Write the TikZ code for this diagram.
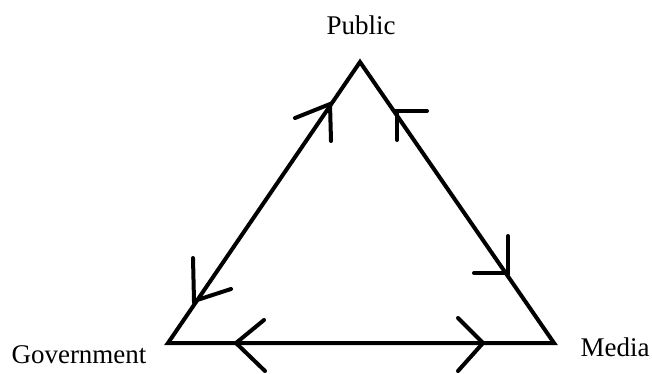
\documentclass[tikz,border=0pt]{standalone}
\usepackage{fontspec}
\setmainfont{Liberation Serif}
\begin{document}
\begin{tikzpicture}[x=1pt,y=-1pt,
  edge/.style={line width=4pt,line cap=round,line join=miter},
  barb/.style={line width=4pt,line cap=round},
  lbl/.style={font=\fontsize{27}{31}\selectfont,anchor=base,inner sep=0pt}]
\useasboundingbox (0,0) rectangle (652,373);
\coordinate (P) at (360,62);
\coordinate (G) at (168,343);
\coordinate (M) at (554,343);
\node[lbl] (pub) at (361,34) {Public};
\node[lbl] (gov) at (79,363) {Government};
\node[lbl] (med) at (615,356) {Media};
\draw[edge] (G) -- (P) -- (M) -- cycle;
% arrow tips
\coordinate (t1) at (330,104);
\coordinate (t2) at (194,301);
\coordinate (t3) at (397,111);
\coordinate (t4) at (508,273);
\coordinate (t5) at (236,343);
\coordinate (t6) at (483,343);
\draw[barb] (295,118) -- (t1) -- (331,141);
\draw[barb] (193,258) -- (t2) -- (231,289);
\draw[barb] (427,111) -- (t3) -- (397,140);
\draw[barb] (508,236) -- (t4) -- (474,273);
\draw[barb] (264,320) -- (t5) -- (265,371);
\draw[barb] (458,318) -- (t6) -- (458,371);
\end{tikzpicture}
\end{document}
